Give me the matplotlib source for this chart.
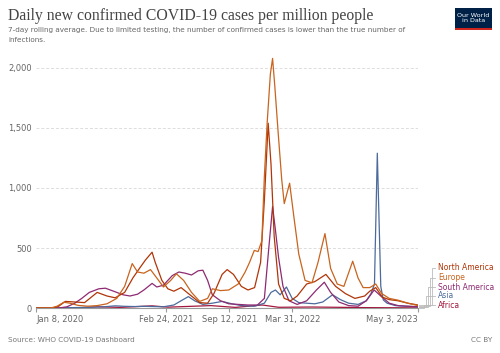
import matplotlib
matplotlib.use("Agg")
import matplotlib.pyplot as plt
import matplotlib.dates as mdates
from matplotlib.lines import Line2D
from matplotlib.patches import Rectangle
import pandas as pd
import numpy as np

# ---------------- data ----------------
europe_dates = ["2020-01-08","2020-02-25","2020-03-15","2020-04-05","2020-04-25","2020-05-20","2020-06-20",
    "2020-07-20","2020-08-20","2020-09-20","2020-10-15","2020-11-08","2020-11-25","2020-12-15","2021-01-05",
    "2021-01-25","2021-02-15","2021-03-10","2021-03-28","2021-04-20","2021-05-15","2021-06-10","2021-07-05",
    "2021-07-20","2021-08-15","2021-09-10","2021-10-10","2021-11-01","2021-11-15","2021-11-30","2021-12-12",
    "2021-12-24","2022-01-01","2022-01-10","2022-01-20","2022-01-27","2022-02-03","2022-02-14","2022-02-25",
    "2022-03-05","2022-03-22","2022-04-05","2022-04-20","2022-05-10","2022-06-01","2022-06-20","2022-07-12",
    "2022-07-30","2022-08-20","2022-09-10","2022-10-08","2022-10-25","2022-11-10","2022-12-01","2022-12-20",
    "2023-01-08","2023-02-01","2023-03-01","2023-04-01","2023-05-03"]
europe_vals = [0,1,15,48,40,22,15,
    20,35,80,180,370,300,290,320,
    250,175,230,285,230,130,55,80,
    160,145,150,200,300,380,480,470,
    560,1100,1550,1950,2080,1850,1450,1070,
    870,1040,750,450,230,210,380,620,
    330,200,180,390,250,170,170,200,
    120,80,65,40,20]

na_dates = ["2020-01-08","2020-03-01","2020-03-20","2020-04-10","2020-05-10","2020-06-10","2020-07-20",
    "2020-08-20","2020-09-15","2020-10-15","2020-11-10","2020-12-01","2020-12-20","2021-01-10","2021-01-20",
    "2021-02-10","2021-03-01","2021-03-20","2021-04-12","2021-05-10","2021-06-10","2021-07-05","2021-07-25",
    "2021-08-20","2021-09-05","2021-09-25","2021-10-20","2021-11-10","2021-12-01","2021-12-20","2022-01-01",
    "2022-01-13","2022-01-22","2022-02-01","2022-02-15","2022-03-05","2022-03-25","2022-04-15","2022-05-15",
    "2022-06-10","2022-07-15","2022-08-15","2022-09-15","2022-10-15","2022-11-15","2022-12-01","2022-12-20",
    "2023-01-10","2023-02-01","2023-03-01","2023-04-01","2023-05-03"]
na_vals = [0,0,15,55,50,45,130,
    100,85,130,250,330,400,465,380,
    230,160,140,170,110,45,40,120,
    280,320,280,180,150,170,380,900,
    1540,1200,600,200,80,60,100,200,
    220,280,180,120,80,100,140,170,
    90,70,60,40,25]

sa_dates = ["2020-01-08","2020-03-20","2020-04-15","2020-05-10","2020-06-01","2020-06-25","2020-07-25",
    "2020-08-15","2020-09-10","2020-10-10","2020-11-01","2020-11-25","2020-12-15","2021-01-10","2021-01-25",
    "2021-02-15","2021-03-15","2021-04-05","2021-04-25","2021-05-15","2021-06-05","2021-06-20","2021-07-05",
    "2021-07-20","2021-08-15","2021-09-10","2021-10-10","2021-11-10","2021-12-10","2022-01-01","2022-01-15",
    "2022-01-27","2022-02-05","2022-02-15","2022-03-01","2022-03-20","2022-04-15","2022-05-15","2022-06-15",
    "2022-07-10","2022-07-30","2022-08-25","2022-09-25","2022-10-25","2022-11-20","2022-12-15","2023-01-05",
    "2023-02-01","2023-03-01","2023-04-01","2023-05-03"]
sa_vals = [0,0,10,40,80,130,160,
    165,140,110,100,115,150,205,175,
    190,270,300,290,275,310,315,230,
    110,60,35,30,25,25,80,500,
    845,650,420,180,60,30,60,150,
    215,130,50,20,15,60,150,100,
    40,20,15,10]

asia_dates = ["2020-01-08","2020-02-10","2020-04-10","2020-06-10","2020-08-10","2020-09-15","2020-10-15",
    "2020-11-15","2020-12-15","2021-02-15","2021-03-20","2021-04-15","2021-05-05","2021-05-25","2021-06-20",
    "2021-07-20","2021-08-20","2021-09-20","2021-10-20","2021-12-01","2022-01-01","2022-01-22","2022-02-05",
    "2022-02-20","2022-03-12","2022-03-30","2022-04-20","2022-05-15","2022-06-10","2022-07-05","2022-08-05",
    "2022-08-30","2022-09-25","2022-10-25","2022-11-20","2022-12-05","2022-12-16","2022-12-25","2023-01-05",
    "2023-01-13","2023-01-25","2023-02-20","2023-03-20","2023-05-03"]
asia_vals = [0,1,2,5,10,18,14,
    12,14,10,25,65,95,60,30,
    40,55,35,20,15,40,130,150,
    110,175,80,45,40,35,50,110,
    70,40,30,60,120,200,1290,180,
    67,40,20,15,10]

africa_dates = ["2020-01-08","2020-04-01","2020-06-01","2020-07-20","2020-10-01","2021-01-10","2021-03-01",
    "2021-07-15","2021-10-01","2021-12-25","2022-02-15","2022-06-01","2022-12-01","2023-05-03"]
africa_vals = [0,0,3,10,5,18,7,
    20,5,25,6,8,3,1]

series_names = ["North America", "Europe", "South America", "Asia", "Africa"]
series_colors = ["#B13507", "#C8641E", "#8E2A72", "#4C6A9C", "#A3183E"]
x_ticks = ["2020-01-08", "2021-02-24", "2021-09-12", "2022-03-31", "2023-05-03"]
x_tick_labels = ["Jan 8, 2020", "Feb 24, 2021", "Sep 12, 2021", "Mar 31, 2022", "May 3, 2023"]
y_ticks = [0, 500, 1000, 1500, 2000]
y_tick_labels = ["0", "500", "1,000", "1,500", "2,000"]

# ---------------- figure ----------------
W, H = 500, 353
fig = plt.figure(figsize=(W/100, H/100), dpi=100)
fig.patch.set_facecolor("white")

def fx(px): return px / W
def fy(py): return 1 - py / H

x0, x1 = 36, 418
y0, y1 = 308, 56
ax = fig.add_axes([fx(x0), fy(y0), fx(x1) - fx(x0), fy(y1) - fy(y0)])

data = {
    "North America": (na_dates, na_vals),
    "Europe": (europe_dates, europe_vals),
    "South America": (sa_dates, sa_vals),
    "Asia": (asia_dates, asia_vals),
    "Africa": (africa_dates, africa_vals),
}
draw_order = ["Africa", "Asia", "South America", "North America", "Europe"]
for name in draw_order:
    d, v = data[name]
    c = series_colors[series_names.index(name)]
    ax.plot(pd.to_datetime(d), v, color=c, lw=0.9, solid_joinstyle="round", zorder=3)

ax.set_xlim(pd.Timestamp("2020-01-08"), pd.Timestamp("2023-05-03"))
ax.set_ylim(0, 2100)
for s in ["top", "right", "left"]:
    ax.spines[s].set_visible(False)
ax.spines["bottom"].set_color("#999999")
ax.spines["bottom"].set_linewidth(0.8)

ax.set_yticks(y_ticks)
ax.set_yticklabels(y_tick_labels)
ax.tick_params(axis="y", length=0, labelsize=6.0, labelcolor="#666666", pad=3)
ax.yaxis.grid(True, color="#dddddd", linestyle=(0, (3, 2)), lw=0.7)
ax.set_axisbelow(True)

ax.set_xticks(pd.to_datetime(x_ticks))
ax.set_xticklabels(x_tick_labels)
ax.tick_params(axis="x", length=3, color="#999999", labelsize=6.0, labelcolor="#666666", pad=2)
tl = ax.get_xticklabels()
tl[0].set_horizontalalignment("left")
tl[-1].set_horizontalalignment("right")

# ---------------- labels with connectors ----------------
label_y = [268, 278, 287, 296, 305]
fig.canvas.draw()
for i, name in enumerate(series_names):
    d, v = data[name]
    xd, yd = ax.transData.transform((mdates.date2num(pd.Timestamp(d[-1])), v[-1]))
    py_end = H - yd
    xv = 424 + (4 - i) * 2
    pts_x = [x1 + 1, xv, xv, 435]
    pts_y = [py_end, py_end, label_y[i], label_y[i]]
    fig.add_artist(Line2D([fx(p) for p in pts_x], [fy(p) for p in pts_y],
                          color="#bbbbbb", lw=0.6, transform=fig.transFigure))
    fig.text(fx(438), fy(label_y[i]), name, color=series_colors[i], fontsize=5.5,
             va="center", ha="left")

# ---------------- titles ----------------
fig.text(fx(8), fy(16), "Daily new confirmed COVID-19 cases per million people",
         fontsize=11.3, family="Liberation Serif", color="#444444", va="center", ha="left")
fig.text(fx(8), fy(30), "7-day rolling average. Due to limited testing, the number of confirmed cases is lower than the true number of",
         fontsize=5.2, color="#666666", va="center", ha="left")
fig.text(fx(8), fy(40), "infections.", fontsize=5.2, color="#666666", va="center", ha="left")

# logo
fig.add_artist(Rectangle((fx(455), fy(29)), fx(492) - fx(455), fy(8) - fy(29),
                         facecolor="#002147", edgecolor="none", transform=fig.transFigure))
fig.add_artist(Rectangle((fx(455), fy(30)), fx(492) - fx(455), fy(28) - fy(30),
                         facecolor="#CE261E", edgecolor="none", transform=fig.transFigure))
fig.text(fx(473.5), fy(18), "Our World\nin Data", fontsize=4.6, color="white",
         ha="center", va="center", linespacing=1.0)

# footer
fig.text(fx(8), fy(340), "Source: WHO COVID-19 Dashboard", fontsize=5.2, color="#777777",
         va="center", ha="left")
fig.text(fx(492), fy(340), "CC BY", fontsize=5.2, color="#777777", va="center", ha="right")

fig.savefig("out.png", dpi=100, facecolor="white")
